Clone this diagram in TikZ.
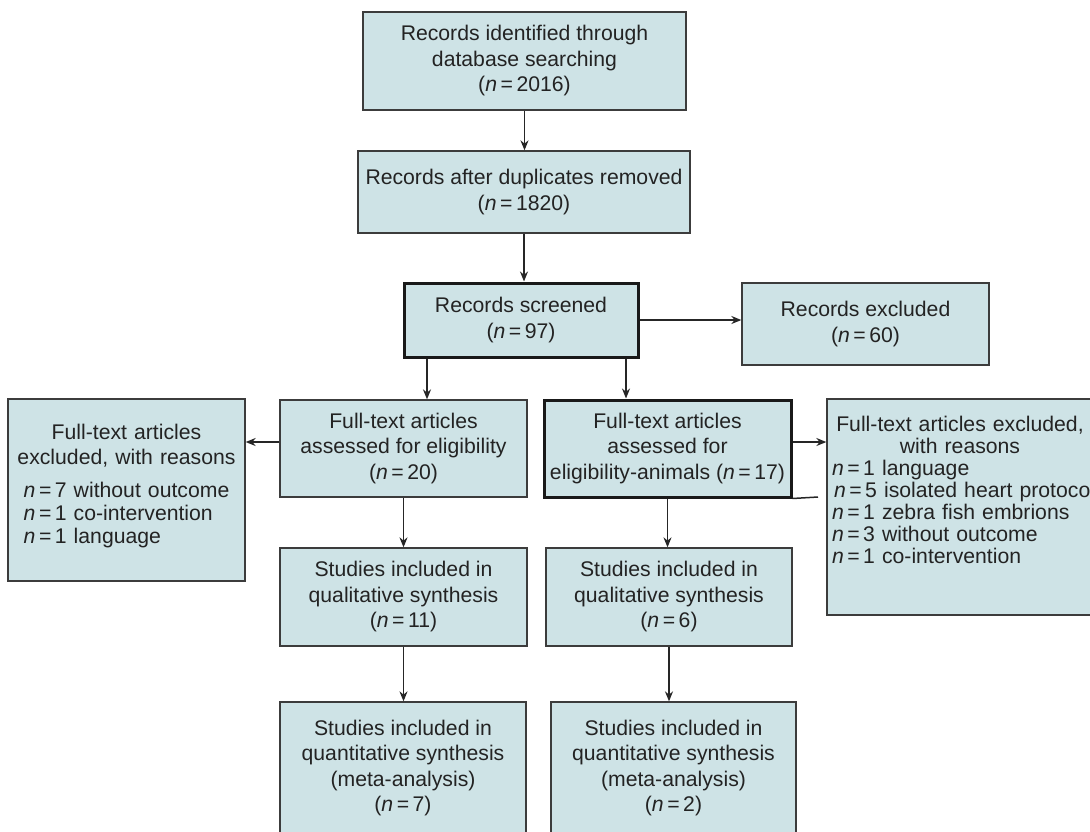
\documentclass[tikz,border=0pt]{standalone}
\usepackage{fontspec}
\setmainfont{Liberation Sans}
\usetikzlibrary{arrows.meta}
\definecolor{boxfill}{RGB}{206,227,230}
\definecolor{boxline}{RGB}{60,60,60}
\definecolor{txt}{RGB}{35,35,35}
\newcommand\nval[1]{\textit{n}\,=\,#1}
\begin{document}
\begin{tikzpicture}[x=1pt,y=-1pt,
  box/.style={draw=boxline, line width=1.3pt, fill=boxfill, text=txt, align=center, inner sep=0pt,
    font=\fontsize{21.2}{25.5}\selectfont},
  thickbox/.style={box, draw=black!90, line width=3pt},
  arr/.style={draw=black!85, line width=1.5pt, -{Stealth[length=10pt,width=8pt]}},
  plain/.style={draw=black!85, line width=1.5pt}]
\useasboundingbox (0,0) rectangle (1090,831);

\node (b1) [box, minimum width=323pt, minimum height=98pt] at (524.5,61)
  {Records identified through\\database searching\\(\nval{2016})};
\node (b2) [box, minimum width=332pt, minimum height=82pt] at (524,192)
  {Records after duplicates removed\\(\nval{1820})};
\node (b3) [thickbox, minimum width=234pt, minimum height=74pt] at (521,320)
  {Records screened\\(\nval{97})};
\node (b4) [box, minimum width=247pt, minimum height=82pt] at (865.5,324)
  {Records excluded\\(\nval{60})};
\node (b5) [box, minimum width=237pt, minimum height=182pt, text width=230pt] at (126.5,490)
  {\centering Full-text articles\\excluded, with reasons\par\vspace{7pt}
   \renewcommand\arraystretch{0.9}%
   \begin{tabular}[t]{@{}l@{}}\nval{7} without outcome\\\nval{1} co-intervention\\\nval{1} language\end{tabular}\par\vspace{6pt}};
\node (b6) [box, minimum width=247pt, minimum height=97pt] at (403.5,448.5)
  {Full-text articles\\assessed for eligibility\\(\nval{20})};
\node (b7) [thickbox, minimum width=247pt, minimum height=97pt] at (667.5,448.5)
  {Full-text articles\\assessed for\\eligibility-animals (\nval{17})};
\node (b8) [box, minimum width=266pt, minimum height=216pt, text width=256pt, align=left,
    font=\fontsize{21.2}{22}\selectfont] at (960,507)
  {{\centering Full-text articles excluded,\\with reasons\par}
   \mbox{\nval{1} language}\\
   \mbox{\hspace*{2pt}\nval{5} isolated heart protocol}\\
   \mbox{\nval{1} zebra fish embrions}\\
   \mbox{\nval{3} without outcome}\\
   \mbox{\nval{1} co-intervention}\par\vspace{34pt}};
\node (b9) [box, minimum width=247pt, minimum height=98pt] at (403.5,597)
  {Studies included in\\qualitative synthesis\\(\nval{11})};
\node (b10) [box, minimum width=246pt, minimum height=98pt] at (669,597)
  {Studies included in\\qualitative synthesis\\(\nval{6})};
\node (b11) [box, minimum width=246pt, minimum height=132pt] at (403,768)
  {Studies included in\\quantitative synthesis\\(meta-analysis)\\(\nval{7})};
\node (b12) [box, minimum width=245pt, minimum height=132pt] at (673.5,768)
  {Studies included in\\quantitative synthesis\\(meta-analysis)\\(\nval{2})};

\coordinate (tail) at (818,497);

\draw[arr] (b1.south) -- (b1.south |- b2.north);
\draw[arr] (b2.south) -- (b2.south |- b3.north);
\draw[arr] (b3.east) -- (b3.east -| b4.west);
\draw[arr] (427,0 |- b3.south) -- (427,0 |- b6.north);
\draw[arr] (626,0 |- b3.south) -- (626,0 |- b7.north);
\draw[arr] (b6.west |- 0,442) -- (b5.east |- 0,442);
\draw[arr] (b7.east |- 0,442) -- (b8.west |- 0,442);
\draw[plain] (b7.south east) -- (tail);
\draw[arr] (b6.south) -- (b6.south |- b9.north);
\draw[arr] (b7.south) -- (b7.south |- b10.north);
\draw[arr] (b9.south) -- (b9.south |- b11.north);
\draw[arr] (b10.south) -- (b10.south |- b12.north);
\end{tikzpicture}
\end{document}
